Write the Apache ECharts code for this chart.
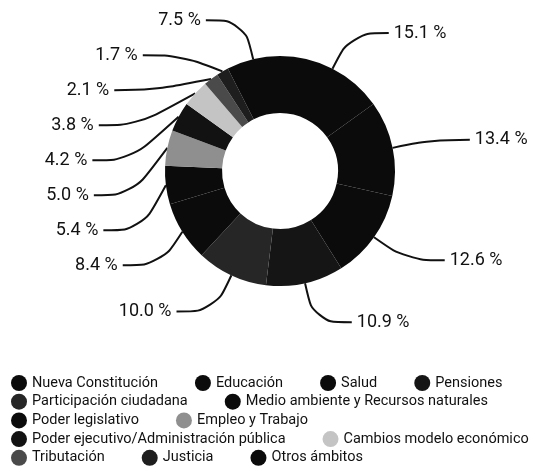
<!doctype html>
<html>
    <head>
        <meta charset="utf-8">
        <title>Ámbitos - donut</title>
        <style>
            html, body { margin: 0; padding: 0; background: #fff; }
            #main { width: 547px; height: 468px; }
        </style>
    </head>
    <body>
        <div id="main"></div>
        <script src="https://cdn.jsdelivr.net/npm/echarts@6/dist/echarts.min.js"></script>
        <script>
            var categories = [
                'Nueva Constitución', 'Educación', 'Salud', 'Pensiones',
                'Participación ciudadana', 'Medio ambiente y Recursos naturales',
                'Poder legislativo', 'Empleo y Trabajo',
                'Poder ejecutivo/Administración pública', 'Cambios modelo económico',
                'Tributación', 'Justicia', 'Otros ámbitos'
            ];
            var values = [15.1, 13.4, 12.6, 10.9, 10.0, 8.4, 5.4, 5.0, 4.2, 3.8, 2.1, 1.7, 7.5];
            // which categories go on each legend line
            var legendRows = [[0, 1, 2, 3], [4, 5], [6, 7], [8, 9], [10, 11, 12]];

            var colors = ['#0b0b0b', '#0b0b0b', '#0b0b0b', '#151515', '#262626', '#0b0b0b',
                          '#0b0b0b', '#8f8f8f', '#121212', '#c4c4c4', '#4a4a4a', '#1e1e1e', '#0b0b0b'];

            var chart = echarts.init(document.getElementById('main'));

            var legends = legendRows.map(function (row, i) {
                return {
                    left: 11,
                    top: 375 + i * 18.7,
                    width: 536,
                    padding: 0,
                    orient: 'horizontal',
                    icon: 'circle',
                    itemWidth: 16,
                    itemHeight: 16,
                    itemGap: 37,
                    selectedMode: false,
                    textStyle: { fontFamily: 'Roboto', fontSize: 14.5, color: '#111' },
                    data: row.map(function (k) { return categories[k]; })
                };
            });

            chart.setOption({
                animation: false,
                color: colors,
                legend: legends,
                series: [{
                    type: 'pie',
                    center: [280, 171],
                    radius: [58, 115],
                    startAngle: 90,
                    clockwise: true,
                    avoidLabelOverlap: true,
                    emphasis: { disabled: true },
                    itemStyle: { borderWidth: 0 },
                    label: {
                        formatter: function (p) { return p.value.toFixed(1) + ' %'; },
                        fontFamily: 'Roboto',
                        fontSize: 18,
                        lineHeight: 33,
                        color: '#111'
                    },
                    labelLine: {
                        length: 40,
                        length2: 38,
                        smooth: 0.4,
                        lineStyle: { color: '#111', width: 2 }
                    },
                    data: categories.map(function (c, i) {
                        return { name: c, value: values[i] };
                    })
                }]
            });

            window.onresize = chart.resize;
        </script>
    </body>
</html>
